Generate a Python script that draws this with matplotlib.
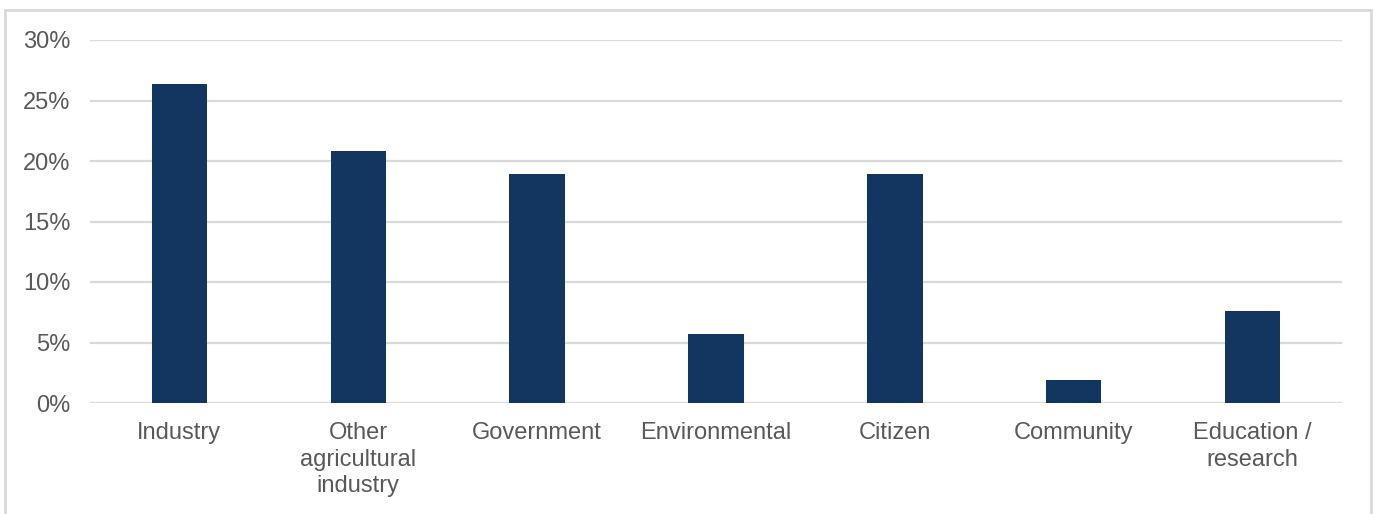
import matplotlib
matplotlib.use("Agg")
import matplotlib.pyplot as plt
from matplotlib.lines import Line2D
from matplotlib.ticker import FuncFormatter

categories = ["Industry", "Other\nagricultural\nindustry", "Government", "Environmental",
              "Citizen", "Community", "Education /\nresearch"]
values = [26.4, 20.8, 18.9, 5.7, 18.9, 1.9, 7.6]
yticks = [0, 5, 10, 15, 20, 25, 30]

plt.rcParams['font.family'] = ['Liberation Sans', 'DejaVu Sans']
W, H = 1378, 514
fig = plt.figure(figsize=(W / 100, H / 100), dpi=100)
ax = fig.add_axes([90 / W, 1 - 403 / H, (1342 - 90) / W, (403 - 40) / H])

ax.bar(range(len(categories)), values, width=0.31, color="#133660", zorder=3)
ax.set_xlim(-0.5, len(categories) - 0.5)
ax.set_ylim(0, 30)
ax.set_yticks(yticks)
ax.yaxis.set_major_formatter(FuncFormatter(lambda v, p: f"{v:.0f}%"))
ax.set_xticks(range(len(categories)))
ax.set_xticklabels(categories, linespacing=1.25)
ax.grid(axis="y", color="#d9d9d9", linewidth=1.6, zorder=0)
for s in ax.spines.values():
    s.set_visible(False)
ax.tick_params(axis="both", length=0, labelsize=17, labelcolor="#595959")
ax.tick_params(axis="y", pad=14)
ax.tick_params(axis="x", pad=14)

# outer frame
c = "#d9d9d9"
x0, x1, y0 = 4.5 / W, 1371 / W, 1 - 9.5 / H
fig.add_artist(Line2D([x0, x0], [0, y0], transform=fig.transFigure, color=c, lw=2))
fig.add_artist(Line2D([x1, x1], [0, y0], transform=fig.transFigure, color=c, lw=2))
fig.add_artist(Line2D([x0, x1], [y0, y0], transform=fig.transFigure, color=c, lw=2))

fig.savefig("out.png", dpi=100)
